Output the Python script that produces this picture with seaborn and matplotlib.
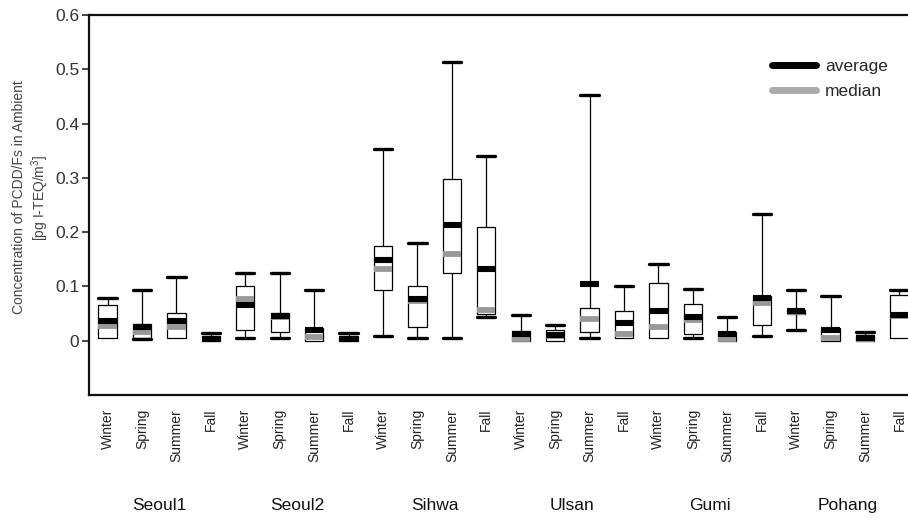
import numpy as np
import pandas as pd
import matplotlib
matplotlib.use('Agg')
import matplotlib.pyplot as plt
from matplotlib.lines import Line2D
from matplotlib.transforms import blended_transform_factory
import seaborn as sns

sites = ['Seoul1', 'Seoul2', 'Sihwa', 'Ulsan', 'Gumi', 'Pohang']
seasons = ['Winter', 'Spring', 'Summer', 'Fall']
ytick_values = [0, 0.1, 0.2, 0.3, 0.4, 0.5, 0.6]
ytick_labels = ['0', '0.1', '0.2', '0.3', '0.4', '0.5', '0.6']

# one value per box, order: site by site, Winter/Spring/Summer/Fall
low = [0.005, 0.003, 0.005, 0.0,
       0.005, 0.005, 0.0, 0.0,
       0.008, 0.005, 0.005, 0.044,
       0.0, 0.0, 0.005, 0.005,
       0.005, 0.005, 0.0, 0.009,
       0.019, 0.0, 0.0, 0.005]
q1 = [0.005, 0.005, 0.005, 0.0,
      0.019, 0.016, 0.0, 0.0,
      0.093, 0.025, 0.125, 0.050,
      0.0, 0.0, 0.016, 0.005,
      0.005, 0.013, 0.0, 0.029,
      0.050, 0.0, 0.0, 0.005]
median = [0.028, 0.016, 0.025, 0.003,
          0.076, 0.043, 0.007, 0.003,
          0.133, 0.074, 0.160, 0.056,
          0.004, 0.008, 0.040, 0.013,
          0.026, 0.039, 0.004, 0.070,
          0.053, 0.005, 0.003, 0.046]
q3 = [0.065, 0.031, 0.051, 0.009,
      0.100, 0.051, 0.024, 0.009,
      0.174, 0.100, 0.297, 0.209,
      0.017, 0.019, 0.060, 0.054,
      0.107, 0.068, 0.016, 0.083,
      0.057, 0.023, 0.010, 0.085]
high = [0.078, 0.093, 0.117, 0.015,
        0.125, 0.125, 0.093, 0.015,
        0.354, 0.180, 0.513, 0.340,
        0.048, 0.029, 0.452, 0.101,
        0.142, 0.096, 0.044, 0.234,
        0.093, 0.082, 0.016, 0.093]
average = [0.036, 0.026, 0.036, 0.004,
           0.065, 0.045, 0.019, 0.004,
           0.149, 0.076, 0.213, 0.132,
           0.013, 0.011, 0.104, 0.033,
           0.055, 0.044, 0.012, 0.079,
           0.054, 0.019, 0.005, 0.048]

boxes = [f'{s} {x}' for s in sites for x in seasons]
rows = []
for i, b in enumerate(boxes):
    for v in (low[i], q1[i], median[i], q3[i], high[i]):
        rows.append((b, v))
df = pd.DataFrame(rows, columns=['box', 'value'])

sns.set_style('white')
plt.rcParams['font.family'] = ['Liberation Sans', 'DejaVu Sans']
plt.rcParams['mathtext.fontset'] = 'custom'
plt.rcParams['mathtext.rm'] = 'Liberation Sans'
plt.rcParams['mathtext.it'] = 'Liberation Sans'

fig = plt.figure(figsize=(9.08, 5.21), dpi=100)
ax = fig.add_axes([89 / 908, 126 / 521, 819 / 908, 380 / 521])

box_w = 0.53
cap_lw = 2.4
sns.boxplot(data=df, x='box', y='value', order=boxes, whis=(0, 100),
            width=box_w, color='white', linecolor='black', linewidth=0.9,
            fliersize=0, medianprops=dict(color='#999999', linewidth=4.2),
            capprops=dict(linewidth=cap_lw), ax=ax)

# caps as wide as the box, hide the lower cap when there is no lower whisker
for line in ax.lines:
    xd = np.asarray(line.get_xdata(), dtype=float)
    yd = np.asarray(line.get_ydata(), dtype=float)
    if len(xd) == 2 and yd[0] == yd[1] and abs(line.get_linewidth() - cap_lw) < 1e-6:
        i = int(round(xd.mean()))
        line.set_xdata([i - box_w / 2, i + box_w / 2])
        if low[i] == q1[i] and abs(yd[0] - low[i]) < 1e-9:
            line.set_visible(False)

xs = np.arange(len(boxes))
ax.hlines(average, xs - box_w / 2, xs + box_w / 2, color='black', lw=4.4,
          capstyle='butt', zorder=5)

ax.set_xlim(-0.54, 23.25)
ax.set_ylim(-0.1, 0.6)
ax.set_yticks(ytick_values)
ax.set_yticklabels(ytick_labels)
ax.set_xticks(xs)
ax.set_xticklabels(seasons * len(sites), rotation=90, va='top')
ax.tick_params(axis='x', length=0, pad=10, labelsize=10, labelcolor='#222222')
ax.tick_params(axis='y', left=True, length=5, width=1.2, direction='out',
               labelsize=12.5, labelcolor='#333333', pad=2)
ax.set_xlabel('')
ax.set_ylabel('Concentration of PCDD/Fs in Ambient\n[pg I-TEQ/m$^3$]',
              fontsize=10, color='#444444', linespacing=1.25)
ax.yaxis.set_label_coords(-0.046, 0.52)

for side in ['left', 'bottom', 'top']:
    ax.spines[side].set_linewidth(1.6)
    ax.spines[side].set_color('#111111')
ax.spines['right'].set_visible(False)

trans = blended_transform_factory(ax.transData, ax.transAxes)
for g, s in enumerate(sites):
    ax.text(4 * g + 1.5, -0.292, s, transform=trans, ha='center', va='center',
            fontsize=12.5, color='#111111')

handles = [Line2D([], [], color='black', lw=5, solid_capstyle='round'),
           Line2D([], [], color='#aaaaaa', lw=5, solid_capstyle='round')]
ax.legend(handles, ['average', 'median'], loc='upper left',
          bbox_to_anchor=(0.815, 0.925), frameon=False, fontsize=12.5,
          handlelength=2.5, handletextpad=0.55, labelspacing=0.55)

fig.savefig('out.png', dpi=100)
